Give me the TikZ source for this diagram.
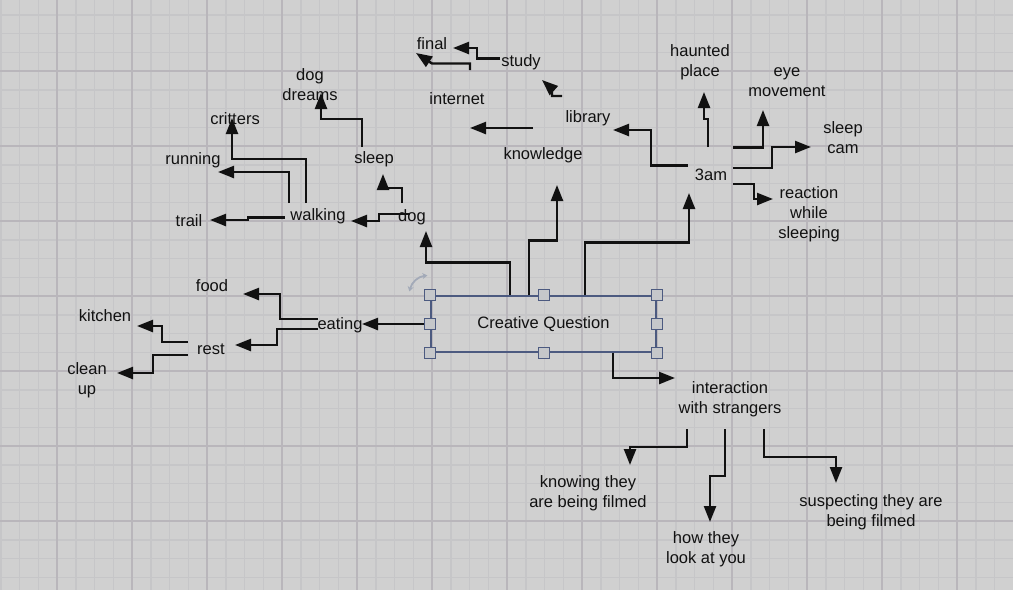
\documentclass[tikz,border=0pt]{standalone}
\usepackage{fontspec}
\setmainfont{Liberation Sans}
\usepackage{xcolor}
\definecolor{PaperGrey}{HTML}{D0D0D0}
\definecolor{GridMinor}{HTML}{C6C6C8}
\definecolor{GridMajor}{HTML}{B9B6BB}
\definecolor{SelectBlue}{HTML}{4C5A80}
\definecolor{InkBlack}{HTML}{111111}
\definecolor{IconGrey}{HTML}{A3AAB8}
\usetikzlibrary{arrows.meta}
\tikzset{
  ideanode/.style={
    align=center,
    text=InkBlack,
    font=\fontsize{16.5}{20}\selectfont,
    inner sep=1pt
  },
  ideabox/.style={
    ideanode,
    draw=SelectBlue,
    line width=1.1pt,
    minimum width=225pt,
    minimum height=56pt,
    inner sep=0pt
  },
  ideahandle/.style={
    draw=SelectBlue,
    fill=PaperGrey!92!SelectBlue,
    line width=1pt,
    minimum size=11pt,
    inner sep=0pt
  },
  idealine/.style={
    draw=InkBlack,
    line width=2.4pt,
    -{Triangle[length=16pt,width=12pt]}
  },
  gridminor/.style={draw=GridMinor, line width=1.5pt},
  gridmajor/.style={draw=GridMajor, line width=1.3pt}
}

\begin{document}
\begin{tikzpicture}[x=1pt,y=-1pt]
  \useasboundingbox (0,0) rectangle (1013,590);
  \fill[PaperGrey] (0,0) rectangle (1013,590);
  \foreach \gx in {0.75,19.5,...,1013}{\draw[gridminor] (\gx,0) -- (\gx,590);}
  \foreach \gy in {-4,14.75,...,590}{\draw[gridminor] (0,\gy) -- (1013,\gy);}
  \foreach \gx in {57,132,...,1013}{\draw[gridmajor] (\gx,0) -- (\gx,590);}
  \foreach \gy in {71,146,...,590}{\draw[gridmajor] (0,\gy) -- (1013,\gy);}

  \node[ideabox] (cq) at (543.5,324) {Creative Question};

  \node[ideanode] (dog) at (412,217.5) {dog};
  \node[ideanode] (walking) at (318,216.5) {walking};
  \node[ideanode] (trail) at (189,220.5) {trail};
  \node[ideanode] (running) at (193,160.5) {running};
  \node[ideanode] (critters) at (235,118.5) {critters};
  \node[ideanode] (sleep) at (374,159.5) {sleep};
  \node[ideanode] (dogdreams) at (310,84.5) {dog\\dreams};
  \node[ideanode] (knowledge) at (543,155.5) {knowledge};
  \node[ideanode] (internet) at (457,98.5) {internet};
  \node[ideanode] (library) at (588,118.5) {library};
  \node[ideanode] (study) at (521,62.5) {study};
  \node[ideanode] (final) at (432,43.5) {final};
  \node[ideanode] (threeam) at (711,174.5) {3am};
  \node[ideanode] (haunted) at (700,62.5) {haunted\\place};
  \node[ideanode] (eye) at (787,82) {eye\\movement};
  \node[ideanode] (sleepcam) at (843,138) {sleep\\cam};
  \node[ideanode] (reaction) at (809,214) {reaction\\while\\sleeping};
  \node[ideanode] (eating) at (340,325.5) {eating};
  \node[ideanode] (food) at (212,285.5) {food};
  \node[ideanode] (rest) at (211,349.5) {rest};
  \node[ideanode] (kitchen) at (105,315.5) {kitchen};
  \node[ideanode] (cleanup) at (87,380.5) {clean\\up};
  \node[ideanode] (interaction) at (730,399.5) {interaction\\with strangers};
  \node[ideanode] (knowing) at (588,493.5) {knowing they\\are being filmed};
  \node[ideanode] (how) at (706,549.5) {how they\\look at you};
  \node[ideanode] (suspecting) at (871,512.5) {suspecting they are\\being filmed};

  \draw[idealine] ([xshift=-33.5pt]cq.north) -- ++(0,-33) -| ([shift={(14,13.5)}]dog.center);
  \draw[idealine] ([xshift=-14.5pt]cq.north) -- ++(0,-55) -| ([shift={(14,29.5)}]knowledge.center);
  \draw[idealine] ([xshift=41.5pt]cq.north) -- ++(0,-53) -| ([shift={(-22,18.5)}]threeam.center);
  \draw[idealine] ([xshift=69.5pt]cq.south) |- ([shift={(-55,-21.5)}]interaction.center);
  \draw[idealine] (cq.west) -- ([shift={(22,-1.5)}]eating.center);

  \draw[idealine] ([shift={(-22,-6.5)}]eating.center) -- ++(-38,0) |- ([shift={(31,8.5)}]food.center);
  \draw[idealine] ([shift={(-22,3.5)}]eating.center) -- ++(-41,0) |- ([shift={(24,-4.5)}]rest.center);
  \draw[idealine] ([shift={(-23,-7.5)}]rest.center) -- ++(-26,0) |- ([shift={(32,10.5)}]kitchen.center);
  \draw[idealine] ([shift={(-23,5.5)}]rest.center) -- ++(-35,0) |- ([shift={(30,-7.5)}]cleanup.center);

  \draw[idealine] ([shift={(-2,-3.5)}]dog.center) -- ++(-31,0) |- ([shift={(33,4.5)}]walking.center);
  \draw[idealine] ([shift={(-10,-14.5)}]dog.center) -- ++(0,-15) -| ([shift={(9,14.5)}]sleep.center);
  \draw[idealine] ([shift={(-12,-12.5)}]sleep.center) -- ++(0,-28) -| ([shift={(11,8.5)}]dogdreams.center);
  \draw[idealine] ([shift={(-33,1)}]walking.center) -- ++(-37,0) |- ([shift={(21,-0.5)}]trail.center);
  \draw[idealine] ([shift={(-29,-13.5)}]walking.center) |- ([shift={(25,11.5)}]running.center);
  \draw[idealine] ([shift={(-12,-13.5)}]walking.center) -- ++(0,-44) -| ([shift={(-3,-0.5)}]critters.center);

  \draw[idealine] ([shift={(-10,-27.5)}]knowledge.center) -- ([shift={(13,29.5)}]internet.center);
  \draw[idealine] ([shift={(-26,-22.5)}]library.center) -- ++(-10,0) -- ++(0,-7) -- ([shift={(21,17.5)}]study.center);
  \draw[idealine] ([shift={(-21,-4)}]study.center) -- ++(-23,0) |- ([shift={(21,4.5)}]final.center);
  \draw[idealine] ([shift={(13,-28.5)}]internet.center) -- ++(0,-6.5) -- ++(-38,0) -- ([shift={(-16,9.5)}]final.center);

  \draw[idealine] ([shift={(-23,-9)}]threeam.center) -- ++(-37,0) |- ([shift={(25,11.5)}]library.center);
  \draw[idealine] ([shift={(-3,-27.5)}]threeam.center) -- ++(0,-28) -| ([shift={(4,29.5)}]haunted.center);
  \draw[idealine] ([shift={(22,-27)}]threeam.center) -| ([shift={(-24,28)}]eye.center);
  \draw[idealine] ([shift={(22,-6.5)}]threeam.center) -- ++(39,0) |- ([shift={(-32,9)}]sleepcam.center);
  \draw[idealine] ([shift={(22,9.5)}]threeam.center) -- ++(21,0) |- ([shift={(-36,-15)}]reaction.center);

  \draw[idealine] ([shift={(-43,29.5)}]interaction.center) -- ++(0,18) -| ([shift={(42,-28.5)}]knowing.center);
  \draw[idealine] ([shift={(-5,29.5)}]interaction.center) -- ++(0,47) -| ([shift={(4,-27.5)}]how.center);
  \draw[idealine] ([shift={(34,29.5)}]interaction.center) -- ++(0,28) -| ([shift={(-35,-29.5)}]suspecting.center);

  \foreach \a/\n in {north west/nw,north/n,north east/ne,west/w,east/e,south west/sw,south/s,south east/se}
    {\node[ideahandle] (h\n) at (cq.\a) {};}
  \draw[IconGrey, line width=1.8pt, {Stealth[length=5pt,width=6pt]}-{Stealth[length=5pt,width=6pt]}]
    ([shift={(-21,-4)}]cq.north west) to[bend left=35] ([shift={(-3,-20)}]cq.north west);
\end{tikzpicture}
\end{document}
